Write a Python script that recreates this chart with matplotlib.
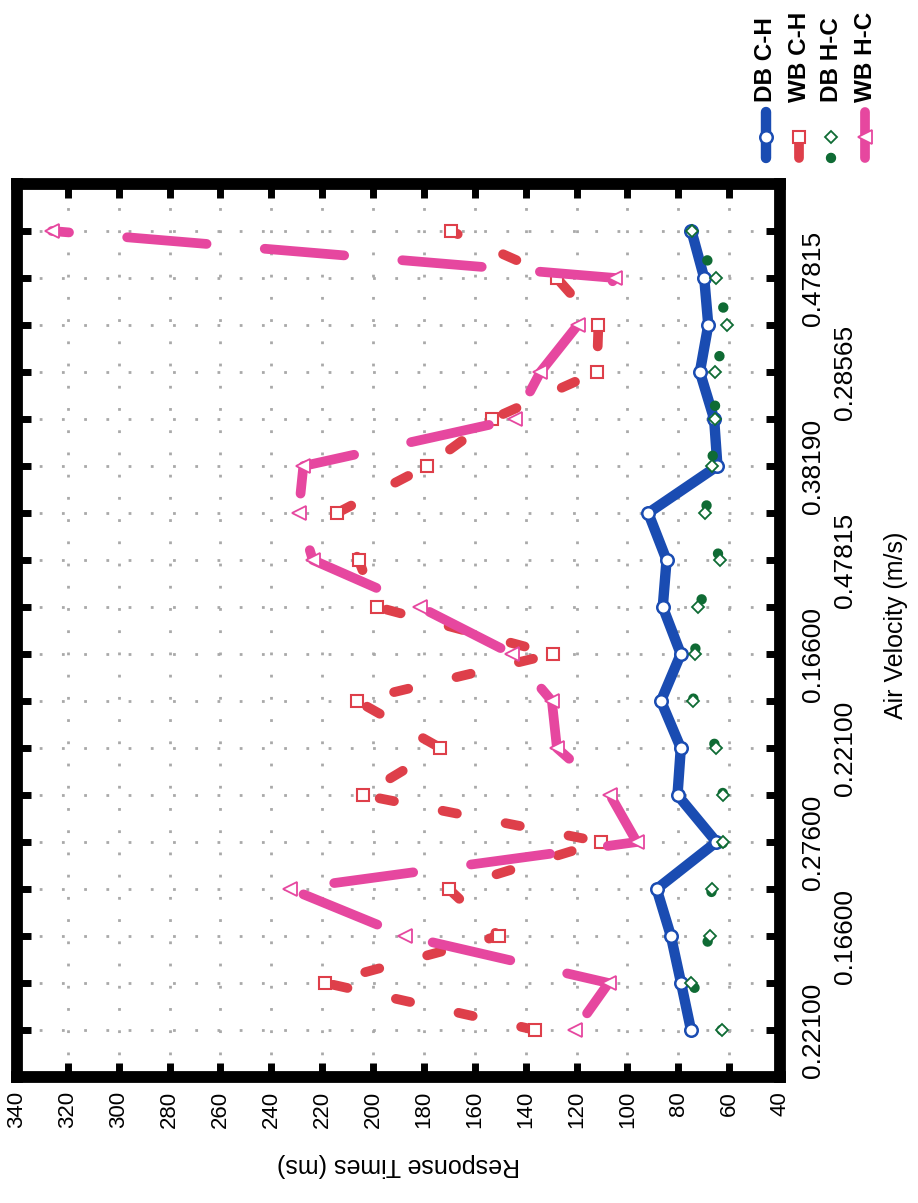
import matplotlib
matplotlib.use('Agg')
import matplotlib.pyplot as plt
import matplotlib.lines as mlines
import numpy as np

plt.rcParams['font.family'] = ['Liberation Sans', 'DejaVu Sans']

# Data (chart is drawn turned on its side: response time runs right-to-left,
# the test steps run bottom-to-top)
velocity_labels = ['0.22100', '0.16600', '0.27600', '0.22100', '0.16600',
                   '0.47815', '0.38190', '0.28565', '0.47815']
steps = np.arange(18)     # measurement steps, a label on every second one
response_ticks = np.arange(40, 341, 20)

db_ch = [75.0, 78.9, 82.9, 88.5, 65.0, 80.3, 79.0, 86.8, 79.0,
         86.1, 84.6, 91.8, 64.6, 65.9, 71.5, 68.2, 69.8, 74.8]
wb_ch = [136.2, 218.8, 150.6, 170.2, 110.3, 204.1, 173.5, 206.3, 129.3,
         198.5, 205.7, 214.2, 178.7, 153.2, 112.0, 111.4, 127.8, 169.5]
db_hc = [63.0, 74.8, 67.6, 66.9, 62.4, 62.4, 65.0, 74.1, 73.4,
         72.2, 63.6, 69.3, 66.7, 65.6, 65.4, 60.7, 65.0, 74.5]
wb_hc = [120.5, 107.4, 187.4, 232.5, 96.3, 106.8, 127.7, 129.7, 145.3,
         181.6, 223.7, 229.3, 227.4, 144.0, 134.2, 119.5, 104.8, 326.3]

blue = '#1a4cb2'
red = '#de3f4a'
green = '#0f6b34'
pink = '#e6479f'

W, H = 918, 1203
fig = plt.figure(figsize=(W / 100, H / 100), dpi=100)
ax = fig.add_axes([17 / W, 126 / H, 763 / W, 893 / H])

# series
ax.plot(db_ch, steps, color=blue, lw=7.5, solid_capstyle='round',
        solid_joinstyle='round', marker='o', ms=9, mfc='white', mec=blue,
        mew=1.8, zorder=3)
ax.plot(wb_ch, steps, color=red, lw=7, ls=(0, (1.5, 5.1)),
        dash_capstyle='round', marker='s', ms=9, mfc='white', mec=red,
        mew=1.5, zorder=4)
ax.plot(db_hc, steps, color=green, lw=7.5, ls=(0, (0.01, 4.8)),
        dash_capstyle='round', marker='D', ms=6, mfc='white', mec=green,
        mew=1.3, zorder=5)
ax.plot(wb_hc, steps, color=pink, lw=7, ls=(12.1, (8.2, 6.0)),
        dash_capstyle='round', marker='<', ms=10, mfc='white', mec=pink,
        mew=1.3, zorder=6)

ax.set_xlim(340, 40)
ax.set_ylim(-1, 18)
ax.set_xticks(response_ticks)
ax.set_xticklabels([str(v) for v in response_ticks], rotation=90, fontsize=16)
ax.set_yticks(steps)
ylabels = [velocity_labels[i // 2] if i % 2 == 0 else '' for i in steps]
ax.set_yticklabels(ylabels, rotation=90, fontsize=19, va='center')

ax.grid(True, color='#a9a9a9', lw=2, ls=(0, (1, 7)))
ax.set_axisbelow(True)
for sp in ax.spines.values():
    sp.set_linewidth(8.5)
    sp.set_color('black')

ax.tick_params(direction='in', length=10, width=5, top=True, bottom=True,
               left=True, right=True, labelleft=False, labelright=True,
               labelbottom=True, labeltop=False)
ax.tick_params(axis='x', pad=10)
for i, t in enumerate(ax.yaxis.get_major_ticks()):
    t.set_pad(38 if i % 4 == 2 else 15)

ax.set_xlabel('Response Times (ms)', rotation=180, fontsize=18, va='center')
ax.xaxis.set_label_coords(0.5, (1077 - 1165) / 893)
ax.yaxis.set_label_position('right')
ax.set_ylabel('Air Velocity (m/s)', rotation=90, fontsize=18, va='center',
              ha='center')
ax.yaxis.set_label_coords((896 - 17) / 763, 0.5 + 5 / 893)

# legend, turned like the chart
names = ['DB C-H', 'WB C-H', 'DB H-C', 'WB H-C']
styles = [
    dict(color=blue, lw=7.5, solid_capstyle='round'),
    dict(color=red, lw=7, ls=(0, (1.5, 5.1)), dash_capstyle='round'),
    dict(color=green, lw=7.5, ls=(0, (0.01, 4.8)), dash_capstyle='round'),
    dict(color=pink, lw=7, ls=(0, (8.2, 6.0)), dash_capstyle='round'),
]
marks = [
    dict(marker='o', ms=9, mfc='white', mec=blue, mew=1.8),
    dict(marker='s', ms=9, mfc='white', mec=red, mew=1.5),
    dict(marker='D', ms=6, mfc='white', mec=green, mew=1.3),
    dict(marker='<', ms=10, mfc='white', mec=pink, mew=1.3),
]
xs = [766, 799, 831, 865]
tops = [112, 112, 120, 112]
for name, st, mk, x, top in zip(names, styles, marks, xs, tops):
    fx = x / W
    fig.add_artist(mlines.Line2D([fx, fx], [1 - 158 / H, 1 - top / H],
                                 transform=fig.transFigure, **st))
    fig.add_artist(mlines.Line2D([fx], [1 - 137 / H], ls='none',
                                 transform=fig.transFigure, **mk))
    fig.text(fx, 1 - 102 / H, name, rotation=90, ha='center', va='bottom',
             fontsize=17.5, fontweight='bold')

fig.savefig('out.png', dpi=100)
